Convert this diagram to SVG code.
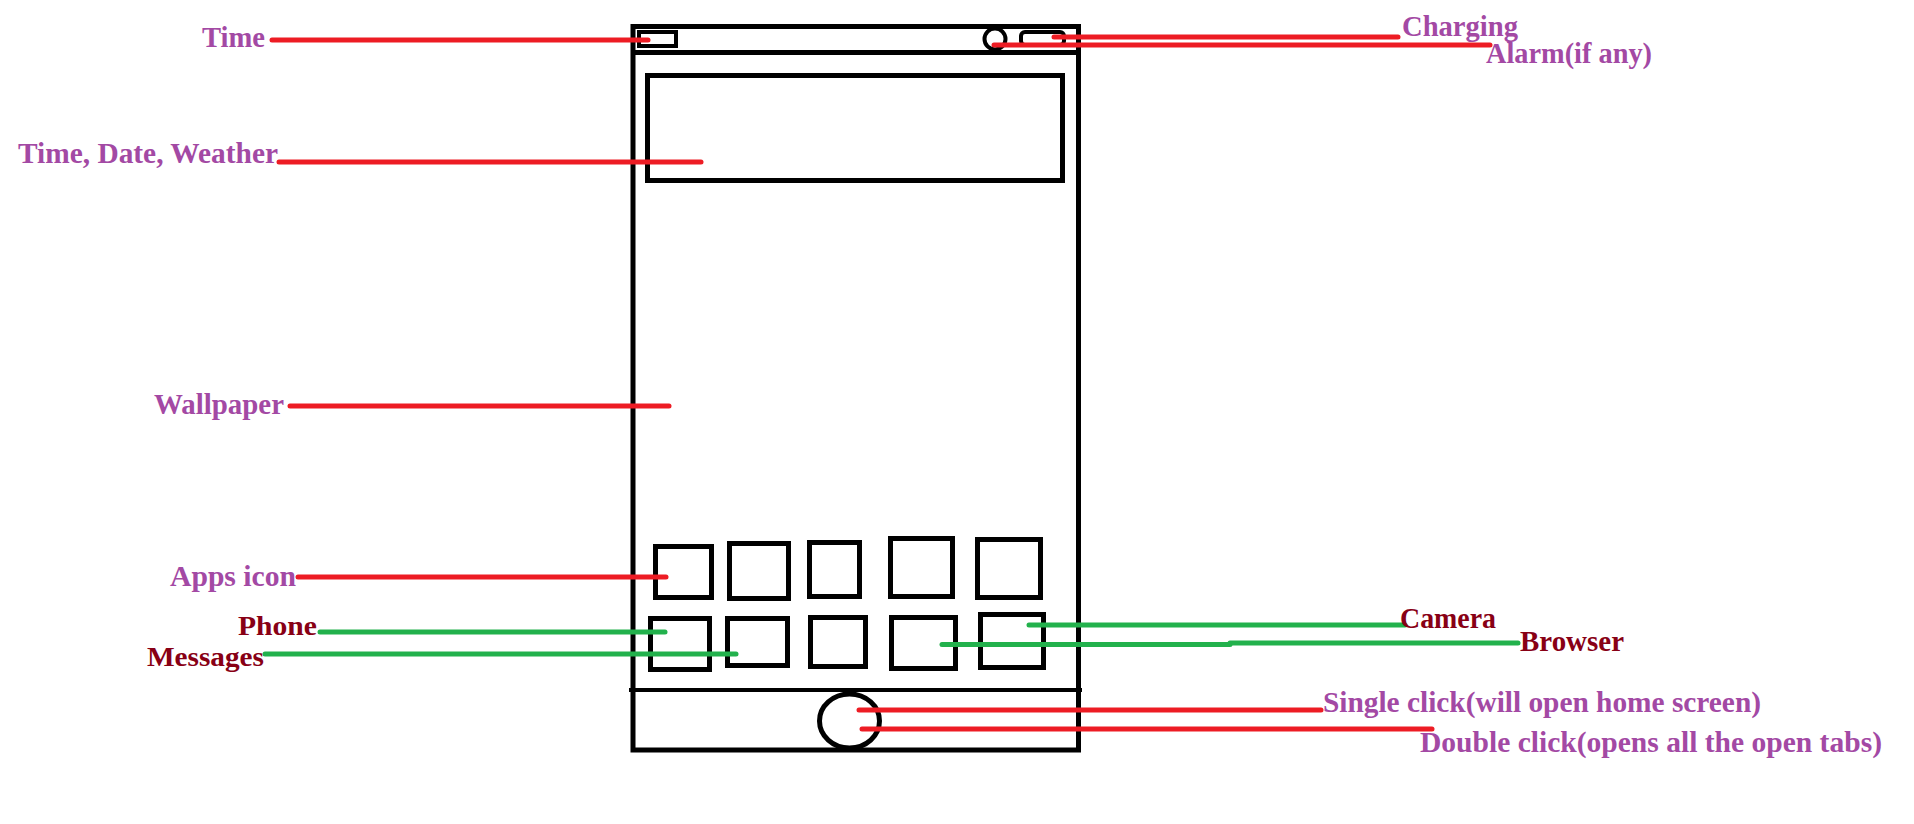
<svg xmlns="http://www.w3.org/2000/svg" width="1914" height="824" viewBox="0 0 1914 824">
<style>
.ph{fill:none;stroke:#000;stroke-width:5}
.thin{fill:none;stroke:#000;stroke-width:4}
.r{stroke:#ED1C24;stroke-width:5;stroke-linecap:round;fill:none}
.g{stroke:#22B14C;stroke-width:5;stroke-linecap:round;fill:none}
text{font-family:"Liberation Serif","Times New Roman",serif;font-weight:bold;font-size:30px}
.p{fill:#A349A4}
.d{fill:#880015}
.s{font-size:28px}
</style>
<rect width="1914" height="824" fill="#fff"/>
<g id="phone">
<rect class="ph" x="633" y="26.5" width="445.5" height="723.5"/>
<line class="ph" x1="633" y1="52.5" x2="1078.5" y2="52.5"/>
<line class="thin" x1="629" y1="690" x2="1082" y2="690"/>
</g>
<g id="status-bar">
<rect class="thin" x="639" y="32" width="37" height="14"/>
<circle class="thin" cx="995" cy="39" r="10.5"/>
<rect class="thin" x="1021" y="32" width="43" height="13" rx="4"/>
</g>
<g id="widget">
<rect class="ph" x="647.5" y="75.5" width="415" height="105"/>
</g>
<g id="apps">
<rect class="ph" x="655.5" y="546.5" width="56" height="51"/>
<rect class="ph" x="729.5" y="543.5" width="59" height="55"/>
<rect class="ph" x="809.5" y="542.5" width="50" height="54"/>
<rect class="ph" x="890.5" y="538.5" width="62" height="58"/>
<rect class="ph" x="977.5" y="539.5" width="63" height="58"/>
<rect class="ph" x="650.5" y="618.5" width="59" height="51"/>
<rect class="ph" x="727.5" y="618.5" width="60" height="47"/>
<rect class="ph" x="810.5" y="617.5" width="55" height="49"/>
<rect class="ph" x="891.5" y="617.5" width="64" height="51"/>
<rect class="ph" x="980.5" y="614.5" width="63" height="53"/>
</g>
<g id="home-button">
<ellipse class="ph" cx="849.5" cy="721" rx="30" ry="27"/>
</g>
<g id="connectors">
<line class="r" x1="272" y1="40" x2="648" y2="40"/>
<line class="r" x1="1054" y1="37" x2="1398" y2="37"/>
<line class="r" x1="994" y1="45" x2="1490" y2="45"/>
<line class="r" x1="279" y1="162" x2="701" y2="162"/>
<line class="r" x1="290" y1="406" x2="669" y2="406"/>
<line class="r" x1="298" y1="577" x2="666" y2="577"/>
<line class="g" x1="320" y1="632" x2="665" y2="632"/>
<line class="g" x1="265" y1="654" x2="736" y2="654"/>
<line class="g" x1="1029" y1="625" x2="1405" y2="625"/>
<line class="g" x1="942" y1="644.5" x2="1230" y2="644.5"/>
<line class="g" x1="1230" y1="643" x2="1518" y2="643"/>
<line class="r" x1="859" y1="710" x2="1321" y2="710"/>
<line class="r" x1="862" y1="729" x2="1432" y2="729"/>
</g>
<g id="labels">
<text class="p" x="202" y="47" textLength="63" lengthAdjust="spacingAndGlyphs">Time</text>
<text class="p" x="1402" y="36" textLength="116" lengthAdjust="spacingAndGlyphs">Charging</text>
<text class="p" x="1486" y="63" textLength="166" lengthAdjust="spacingAndGlyphs">Alarm(if any)</text>
<text class="p" x="18" y="163" textLength="260" lengthAdjust="spacingAndGlyphs">Time, Date, Weather</text>
<text class="p" x="154" y="414" textLength="130" lengthAdjust="spacingAndGlyphs">Wallpaper</text>
<text class="p" x="170" y="586" textLength="126" lengthAdjust="spacingAndGlyphs">Apps icon</text>
<text class="d s" x="238" y="635" textLength="79" lengthAdjust="spacingAndGlyphs">Phone</text>
<text class="d s" x="147" y="666" textLength="117" lengthAdjust="spacingAndGlyphs">Messages</text>
<text class="d" x="1400" y="628" textLength="96" lengthAdjust="spacingAndGlyphs">Camera</text>
<text class="d" x="1520" y="651" textLength="104" lengthAdjust="spacingAndGlyphs">Browser</text>
<text class="p" x="1323" y="712" textLength="438" lengthAdjust="spacingAndGlyphs">Single click(will open home screen)</text>
<text class="p" x="1420" y="752" textLength="462" lengthAdjust="spacingAndGlyphs">Double click(opens all the open tabs)</text>
</g>
</svg>
